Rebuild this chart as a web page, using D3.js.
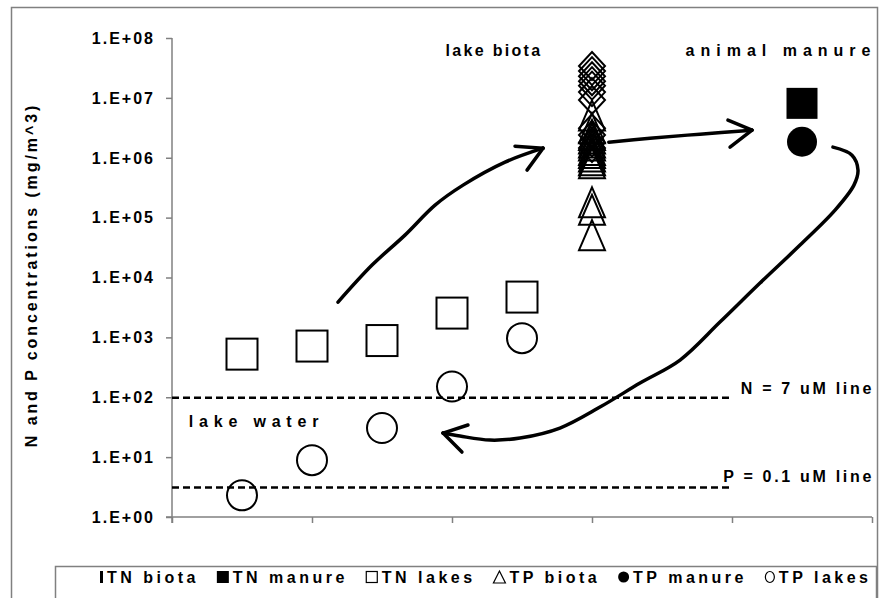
<!DOCTYPE html>
<html><head><meta charset="utf-8">
<script src="https://cdn.jsdelivr.net/npm/d3@7/dist/d3.min.js"></script>
<style>
html,body{margin:0;padding:0;background:#fff;}
svg{display:block;}
text{font-family:"Liberation Sans",Arial,Helvetica,sans-serif;font-weight:bold;fill:#000;}
</style></head>
<body>
<svg id="c" width="882" height="598"></svg>
<script>
// ---------- data ----------
const xDomain = [0, 5];
const xTickValues = [0, 1, 2, 3, 4, 5];
const yTickValues = [1, 1e1, 1e2, 1e3, 1e4, 1e5, 1e6, 1e7, 1e8];
const yTickLabels = ["1.E+00","1.E+01","1.E+02","1.E+03","1.E+04","1.E+05","1.E+06","1.E+07","1.E+08"];

const lakeX = [0.5, 1, 1.5, 2, 2.5];
const tnLakes = [525, 716, 885, 2545, 4710];
const tpLakes = [2.3, 8.9, 30.6, 151, 970];

const biotaX = 3;
const tnBiota = [3.4e7, 2.8e7, 2.3e7, 1.9e7, 1.6e7, 1.25e7, 9.2e6, 3.1e6, 2.4e6, 1.8e6, 1.45e6];
const tpBiota = [5.1e6, 3.1e6, 2.4e6, 2.1e6, 1.8e6, 1.6e6, 1.35e6, 1.2e6, 1.05e6, 9.1e5, 8.1e5, 1.8e5, 1.35e5, 5.1e4];

const manureX = 4.5;
const tnManure = [8.1e6];
const tpManure = [1.85e6];

const nLineValue = 98;   // 7 uM N in mg/m^3
const pLineValue = 3.1;  // 0.1 uM P in mg/m^3
const refLineX = [0, 4];

const legendLabels = ["TN biota","TN manure","TN lakes","TP biota","TP manure","TP lakes"];

// hand-drawn arrows in data space: [x, log10(value)]
const arrowUp = [[1.186,3.589],[1.429,4.207],[1.664,4.708],[1.879,5.209],[2.079,5.543],[2.379,5.927],[2.65,6.16]];
const arrowUpWings = [[2.45,6.194],[2.536,5.793]];
const arrowRight = [[3.12,6.26],[3.414,6.327],[3.771,6.394],[4.143,6.461]];
const arrowRightWings = [[3.971,6.628],[3.986,6.177]];
const arrowBack = [[4.721,6.177],[4.857,6.043],[4.9,5.793],[4.871,5.543],[4.736,5.125],[4.486,4.541],[4.2,3.907],[3.914,3.255],[3.629,2.621],[3.343,2.237],[3.057,1.836],[2.771,1.486],[2.486,1.319],[2.271,1.285],[2.057,1.352],[1.936,1.402]];
const arrowBackWings = [[2.114,1.536],[2.071,1.085]];

// ---------- drawing ----------
const svg = d3.select("#c");
const x = d3.scaleLinear().domain(xDomain).range([172, 872]);
const y = d3.scaleLog().domain([1, 1e8]).range([517, 38]);
const grey = "#808080";
const FS = 16;

// outer frame
svg.append("rect").attr("x",11.5).attr("y",7.5).attr("width",866).attr("height",620)
  .attr("fill","none").attr("stroke",grey).attr("stroke-width",1.5);

// axes
const yAxis = svg.append("g").attr("transform","translate(172,0)")
  .call(d3.axisLeft(y).tickValues(yTickValues).tickSize(6).tickFormat(""));
yAxis.select(".domain").attr("stroke",grey).attr("stroke-width",1.5).attr("d","M0,38V523");
yAxis.selectAll(".tick line").attr("stroke",grey).attr("stroke-width",1.5);
const xAxis = svg.append("g").attr("transform","translate(0,517)")
  .call(d3.axisBottom(x).tickValues(xTickValues).tickSize(6).tickFormat(""));
xAxis.select(".domain").attr("stroke",grey).attr("stroke-width",1.5).attr("d","M166,0H872");
xAxis.selectAll(".tick line").attr("stroke",grey).attr("stroke-width",1.5);

// y tick labels
svg.append("g").selectAll("text").data(yTickValues).join("text")
  .attr("x",155).attr("y",d=>y(d)).attr("dy","0.36em")
  .attr("text-anchor","end").attr("font-size",FS).attr("letter-spacing",2)
  .text((d,i)=>yTickLabels[i]);

// y title
svg.append("text").attr("transform","translate(37,275) rotate(-90)")
  .attr("text-anchor","middle").attr("font-size",FS).attr("letter-spacing",2.9)
  .text("N and P concentrations (mg/m^3)");

// reference lines
const lineGen = d3.line().x(d=>x(d[0])).y(d=>y(d[1]));
[nLineValue,pLineValue].forEach(v=>{
  svg.append("path").attr("d",lineGen(refLineX.map(a=>[a,v])))
    .attr("stroke","#000").attr("stroke-width",2.5).attr("stroke-dasharray","7,4").attr("fill","none");
});

// markers
const sw = 2;
function tri(w,h){return `M0,${-h/2}L${w/2},${h/2}L${-w/2},${h/2}Z`;}
function dia(w,h){return `M0,${-h/2}L${w/2},0L0,${h/2}L${-w/2},0Z`;}

svg.append("g").selectAll("path").data(tnBiota).join("path")
  .attr("transform",d=>`translate(${x(biotaX)},${y(d)})`).attr("d",dia(26,28))
  .attr("fill","none").attr("stroke","#000").attr("stroke-width",sw);
svg.append("g").selectAll("path").data(tpBiota).join("path")
  .attr("transform",d=>`translate(${x(biotaX)},${y(d)})`).attr("d",tri(26,30))
  .attr("fill","none").attr("stroke","#000").attr("stroke-width",sw);

svg.append("g").selectAll("rect").data(tnLakes).join("rect")
  .attr("x",(d,i)=>x(lakeX[i])-15.5).attr("y",d=>y(d)-15.5).attr("width",31).attr("height",31)
  .attr("fill","#fff").attr("stroke","#000").attr("stroke-width",sw);
svg.append("g").selectAll("circle").data(tpLakes).join("circle")
  .attr("cx",(d,i)=>x(lakeX[i])).attr("cy",d=>y(d)).attr("r",15)
  .attr("fill","none").attr("stroke","#000").attr("stroke-width",sw);

svg.append("g").selectAll("rect").data(tnManure).join("rect")
  .attr("x",x(manureX)-15.5).attr("y",d=>y(d)-15.5).attr("width",31).attr("height",31).attr("fill","#000");
svg.append("g").selectAll("circle").data(tpManure).join("circle")
  .attr("cx",x(manureX)).attr("cy",d=>y(d)).attr("r",15).attr("fill","#000");

// arrows
const smooth = d3.line().x(d=>x(d[0])).y(d=>y(Math.pow(10,d[1]))).curve(d3.curveCatmullRom.alpha(0.5));
const straight = d3.line().x(d=>x(d[0])).y(d=>y(Math.pow(10,d[1])));
function arrow(pts, wings){
  svg.append("path").attr("d",smooth(pts)).attr("fill","none").attr("stroke","#000")
    .attr("stroke-width",3.5).attr("stroke-linecap","round").attr("stroke-linejoin","round");
  const tip = pts[pts.length-1];
  wings.forEach(w=>{
    svg.append("path").attr("d",straight([w,tip])).attr("fill","none")
      .attr("stroke","#000").attr("stroke-width",3.5).attr("stroke-linecap","round");
  });
}
arrow(arrowUp, arrowUpWings);
arrow(arrowRight, arrowRightWings);
arrow(arrowBack, arrowBackWings);

// annotation labels (data space anchors)
function label(txt, xv, yv, anchor, ls){
  svg.append("text").attr("x",x(xv)).attr("y",y(yv)).attr("dy","0.36em")
    .attr("text-anchor",anchor).attr("font-size",FS).attr("letter-spacing",ls).text(txt);
}
label("lake biota", 2.3, 6.3e7, "middle", 2.3);
label("animal manure", 4.35, 6.3e7, "middle", 6);
label("lake water", 0.12, 40, "start", 5.8);
label("N = 7 uM line", 5.015, 1.4e2, "end", 2.7);
label("P = 0.1 uM line", 5.015, 4.8, "end", 2.7);

// legend
svg.append("rect").attr("x",55.5).attr("y",566.5).attr("width",821).attr("height",60)
  .attr("fill","#fff").attr("stroke",grey).attr("stroke-width",1.5);
const lg = svg.append("g");
const ly = 577, legStart = 100, legEnd = 868, mGap = 4, ls = 3.5;
const markerW = [3, 12, 12, 12, 11, 10];
const items = legendLabels.map((lab,i)=>{
  const g = lg.append("g");
  const t = g.append("text").attr("y",ly).attr("dy","0.36em").attr("font-size",FS)
    .attr("letter-spacing",ls).text(lab);
  return {g, t, w: t.node().getComputedTextLength() - ls};
});
const used = items.reduce((s,it,i)=>s + markerW[i] + mGap + it.w, 0);
const gap = (legEnd - legStart - used) / (items.length - 1);
let cx = legStart;
items.forEach((it,i)=>{
  const g = it.g;
  if(i===0){ g.append("rect").attr("x",cx).attr("y",ly-6).attr("width",3).attr("height",12).attr("fill","#000"); }
  if(i===1){ g.append("rect").attr("x",cx).attr("y",ly-6).attr("width",12).attr("height",12).attr("fill","#000"); }
  if(i===2){ g.append("rect").attr("x",cx+0.5).attr("y",ly-5.5).attr("width",11).attr("height",11).attr("fill","none").attr("stroke","#000").attr("stroke-width",1.2); }
  if(i===3){ g.append("path").attr("transform",`translate(${cx+6},${ly})`).attr("d",tri(12,12)).attr("fill","none").attr("stroke","#000").attr("stroke-width",1.2); }
  if(i===4){ g.append("circle").attr("cx",cx+5.5).attr("cy",ly).attr("r",5.5).attr("fill","#000"); }
  if(i===5){ g.append("ellipse").attr("cx",cx+5).attr("cy",ly).attr("rx",4.5).attr("ry",5.5).attr("fill","none").attr("stroke","#000").attr("stroke-width",1.2); }
  it.t.attr("x", cx + markerW[i] + mGap);
  cx += markerW[i] + mGap + it.w + gap;
});
</script>
</body></html>
